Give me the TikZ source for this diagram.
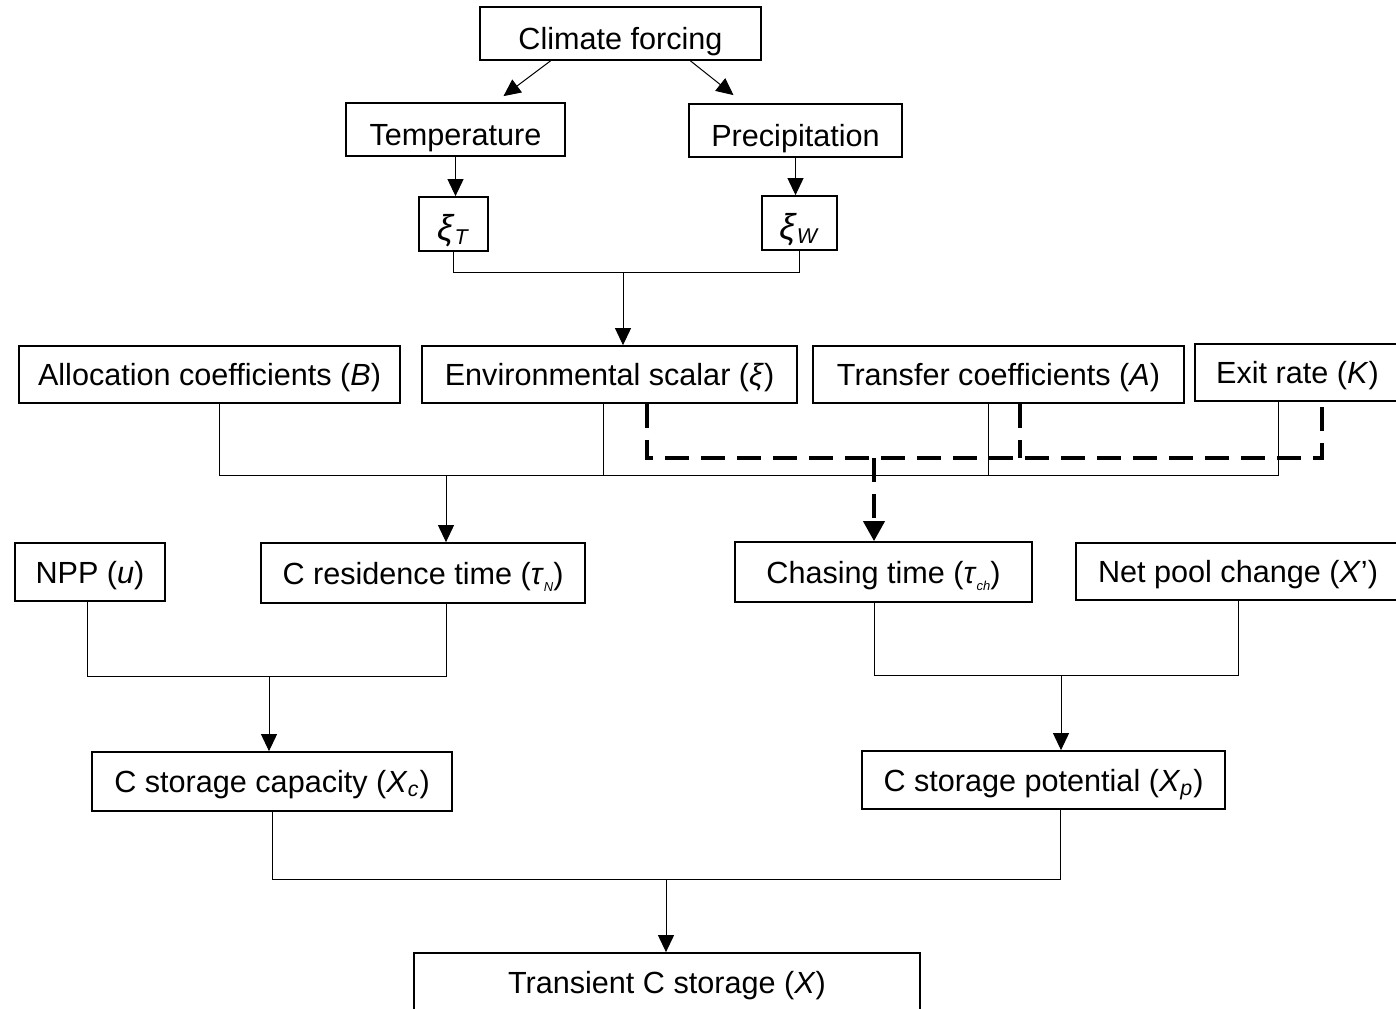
\documentclass[tikz,border=0pt]{standalone}
\usepackage{fontspec}
\setmainfont{Liberation Sans}
\usepackage{tikz}
\usetikzlibrary{arrows.meta}

\newcommand{\isub}[1]{\textsubscript{\textit{#1}}}
\newcommand{\tinysub}[1]{\raisebox{-0.45ex}{\fontsize{6.5}{6.5}\selectfont\textit{#1}}}
\newcommand{\bigxi}{{\fontsize{18}{18}\selectfont\textit{ξ}}}

\tikzset{
  box/.style={draw, line width=0.9pt, inner sep=0pt, text height=11pt, text depth=0pt, font=\fontsize{15.3}{18}\selectfont},
  topbox/.style={box, text height=16pt},
  conn/.style={line width=0.5pt},
  arr/.style={line width=0.5pt, -{Triangle[length=8.5pt,width=8pt]}},
  dashconn/.style={line width=2pt, dash pattern=on 12pt off 6pt},
}

\begin{document}
\begin{tikzpicture}[x=0.5pt,y=-0.5pt]
    \useasboundingbox (0,0) rectangle (1396,1008);
    % climate part
    \node[topbox, minimum width=140.5pt, minimum height=26.5pt] (climate) at (620.5,33.5) {Climate forcing};
    \node[topbox, minimum width=109.5pt, minimum height=26.5pt] (temp) at (455.5,129.5) {Temperature};
    \node[topbox, minimum width=106.5pt, minimum height=26.5pt] (precip) at (795.5,130.5) {Precipitation};
    \node[topbox, minimum width=34.5pt, minimum height=27pt] (xiT) at (453.5,224) {\bigxi\isub{T}};
    \node[topbox, minimum width=37.5pt, minimum height=27pt] (xiW) at (799.5,223) {\bigxi\isub{W}};
    % parameters row
    \node[box, minimum width=190.5pt, minimum height=28.5pt] (alloc) at (209.5,374.5) {Allocation coefficients (\textit{B})};
    \node[box, minimum width=187.5pt, minimum height=28.5pt] (env) at (609.5,374.5) {Environmental scalar (\textit{ξ})};
    \node[box, minimum width=185.5pt, minimum height=28.5pt] (transfer) at (998.5,374.5) {Transfer coefficients (\textit{A})};
    \node[box, minimum width=102.5pt, minimum height=28.5pt] (exit) at (1297.5,372.5) {Exit rate (\textit{K})};
    % times row
    \node[box, minimum width=75pt, minimum height=29pt] (npp) at (90,572) {NPP (\textit{u})};
    \node[box, minimum width=162pt, minimum height=30pt] (resid) at (423,573) {C residence time (\textit{τ}\tinysub{N})};
    \node[box, minimum width=148.5pt, minimum height=30pt] (chase) at (883.5,572) {Chasing time (\textit{τ}\tinysub{ch})};
    \node[box, minimum width=162pt, minimum height=28.5pt] (netpool) at (1238,571.5) {Net pool change (\textit{X}’)};
    % storage
    \node[box, minimum width=180pt, minimum height=29.5pt] (capac) at (272,781.5) {C storage capacity (\textit{X}\isub{c})};
    \node[box, minimum width=181.5pt, minimum height=29pt] (potent) at (1043.5,780) {C storage potential (\textit{X}\isub{p})};
    \node[box, minimum width=253pt, minimum height=29.5pt] (trans) at (667,982.5) {Transient C storage (\textit{X})};

    % junction points
    \coordinate (xijoin) at (623,272);
    \coordinate (ljoin) at (446,475);
    \coordinate (djoin) at (874,458);
    \coordinate (njoin) at (269,676);
    \coordinate (cjoin) at (1061,675);
    \coordinate (tjoin) at (666,879);

    \draw[arr] ([xshift=-35pt]climate.south) -- ([xshift=24pt,yshift=3pt]temp.north);
    \draw[arr] ([xshift=35pt]climate.south) -- ([xshift=-31pt,yshift=4pt]precip.north);
    \draw[arr] (temp.south) -- (temp.south |- xiT.north);
    \draw[arr] (precip.south) -- (precip.south |- xiW.north);
    \draw[conn] (xiT.south) |- (xijoin) -| (xiW.south);
    \draw[arr] (xijoin) -- (xijoin |- env.north);

    % solid lines to residence time
    \draw[conn] ([xshift=5pt]alloc.south) |- (ljoin) -| ([xshift=-9.75pt]exit.south);
    \draw[conn] ([xshift=-3pt]env.south) -- ([xshift=-3pt]env.south |- ljoin);
    \draw[conn] ([xshift=-5pt]transfer.south) -- ([xshift=-5pt]transfer.south |- ljoin);
    \draw[arr] (ljoin) -- (ljoin |- resid.north);

    % dashed lines to chasing time
    \draw[dashconn] ([xshift=18.75pt]env.south) |- ([xshift=12.25pt]exit.south |- djoin) -- ([xshift=12.25pt]exit.south);
    \draw[dashconn] ([xshift=10.75pt]transfer.south) -- ([xshift=10.75pt]transfer.south |- djoin);
    \draw[dashconn, -{Triangle[length=10pt,width=10.5pt]}] (djoin) -- (djoin |- chase.north);

    \draw[conn] ([xshift=-1.5pt]npp.south) |- (njoin) -| ([xshift=11.5pt]resid.south);
    \draw[arr] (njoin) -- (njoin |- capac.north);
    \draw[conn] ([xshift=-4.75pt]chase.south) |- (cjoin) -| (netpool.south);
    \draw[arr] (cjoin) -- (cjoin |- potent.north);

    \draw[conn] (capac.south) |- (tjoin) -| ([xshift=8.25pt]potent.south);
    \draw[arr] (tjoin) -- (tjoin |- trans.north);
\end{tikzpicture}
\end{document}
